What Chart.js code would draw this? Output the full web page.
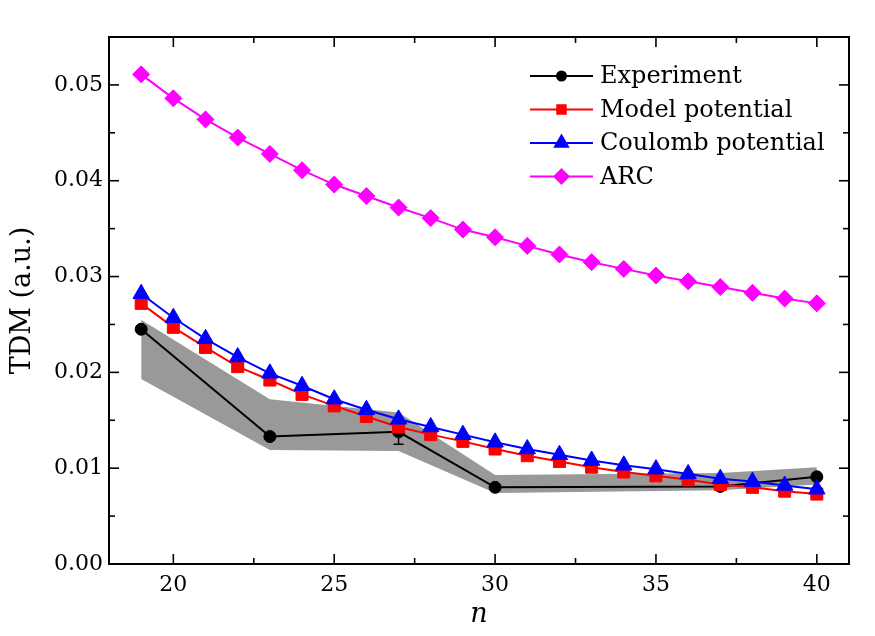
<!DOCTYPE html>
<html><head><meta charset="utf-8">
<script src="https://cdn.jsdelivr.net/npm/chart.js@4.4.0/dist/chart.umd.min.js"></script>
<style>html,body{margin:0;padding:0;background:#fff;}#wrap{width:875px;height:636px;}</style>
</head><body><div id="wrap"><canvas id="c" width="875" height="636"></canvas></div>
<script>
const nTheory = [19,20,21,22,23,24,25,26,27,28,29,30,31,32,33,34,35,36,37,38,39,40];
const modelPotential = [0.0272,0.0247,0.0226,0.0206,0.0192,0.0177,0.0165,0.0154,0.0143,0.0135,0.0128,0.0120,0.0113,0.0107,0.0101,0.0096,0.0092,0.0088,0.0083,0.0080,0.0076,0.0073];
const coulombPotential = [0.0282,0.0257,0.0235,0.0216,0.0199,0.0186,0.0172,0.0161,0.0151,0.0143,0.0135,0.0127,0.0120,0.0114,0.0108,0.0103,0.0099,0.0094,0.0089,0.0086,0.0082,0.0078];
const arcValues = [0.0511,0.0486,0.0464,0.0445,0.0428,0.0411,0.0396,0.0384,0.0372,0.0361,0.0349,0.0341,0.0332,0.0323,0.0315,0.0308,0.0301,0.0295,0.0289,0.0283,0.0277,0.0272];
const expN = [19,23,27,30,37,40];
const expValues = [0.0245,0.0133,0.0138,0.0080,0.0081,0.0091];
const errN = [27];
const errLow = [0.0125];
const errHigh = [0.0151];
const bandN = [19,23,27,30,37,40];
const bandLow = [0.0193,0.0119,0.0118,0.0074,0.0077,0.0083];
const bandHigh = [0.0255,0.0172,0.0158,0.0093,0.0095,0.0101];
const xMajorTicks = [20,25,30,35,40];
const xMinorTicks = [22.5,27.5,32.5,37.5];
const yMajorTicks = [0,0.01,0.02,0.03,0.04,0.05];
const yMinorTicks = [0.005,0.015,0.025,0.035,0.045];
const seriesNames = ['Experiment','Model potential','Coulomb potential','ARC'];

const F = "'DejaVu Serif', serif";
const pts = (xs, ys) => xs.map((v,i)=>({x:v, y:ys[i]}));

const framePlugin = {
  id:'frame',
  afterDraw(chart){
    const {ctx, chartArea:a, scales:{x,y}} = chart;
    ctx.save();
    ctx.strokeStyle='#000';
    const ln=(x1,y1,x2,y2)=>{ctx.beginPath();ctx.moveTo(x1,y1);ctx.lineTo(x2,y2);ctx.stroke();};
    ctx.lineWidth=1.6;
    xMajorTicks.forEach(v=>{const p=x.getPixelForValue(v); ln(p,a.bottom,p,a.bottom-10); ln(p,a.top,p,a.top+10);});
    xMinorTicks.forEach(v=>{const p=x.getPixelForValue(v); ln(p,a.bottom,p,a.bottom-6); ln(p,a.top,p,a.top+6);});
    yMajorTicks.forEach(v=>{const p=y.getPixelForValue(v); ln(a.left,p,a.left+10,p); ln(a.right,p,a.right-10,p);});
    yMinorTicks.forEach(v=>{const p=y.getPixelForValue(v); ln(a.left,p,a.left+6,p); ln(a.right,p,a.right-6,p);});
    ctx.lineWidth=2;
    ctx.strokeRect(a.left, a.top, a.right-a.left, a.bottom-a.top);
    // legend
    const items = [
      {c:'#000000', s:'circle', r:4.5},
      {c:'#ff0000', s:'rect', r:6},
      {c:'#0000ff', s:'triangle', r:7.5},
      {c:'#ff00ff', s:'rectRot', r:7}
    ];
    const lx0=530, lx1=593, tx=600, y0=76, dy=33.5;
    ctx.font = "24px " + F;
    ctx.textBaseline='middle';
    ctx.textAlign='left';
    items.forEach((it,i)=>{
      const yy=y0+i*dy;
      ctx.strokeStyle=it.c; ctx.lineWidth=2;
      ln(lx0,yy,lx1,yy);
      ctx.fillStyle=it.c;
      Chart.helpers.drawPoint(ctx,{pointStyle:it.s, radius:it.r, rotation:0, borderWidth:1}, (lx0+lx1)/2, yy);
      ctx.fillStyle='#000';
      ctx.fillText(seriesNames[i], tx, yy+1);
    });
    ctx.restore();
  },
  afterDatasetDraw(chart, args){
    if(args.index!==2) return;
    const {ctx, scales:{x,y}} = chart;
    ctx.save();
    ctx.strokeStyle='#000'; ctx.lineWidth=1.5;
    errN.forEach((n,i)=>{
      const px=x.getPixelForValue(n), lo=y.getPixelForValue(errLow[i]), hi=y.getPixelForValue(errHigh[i]);
      ctx.beginPath(); ctx.moveTo(px,lo); ctx.lineTo(px,hi);
      ctx.moveTo(px-5,lo); ctx.lineTo(px+5,lo);
      ctx.moveTo(px-5,hi); ctx.lineTo(px+5,hi); ctx.stroke();
    });
    ctx.restore();
  }
};

new Chart(document.getElementById('c'), {
  type:'line',
  data:{datasets:[
    {label:'Coulomb potential', data:pts(nTheory,coulombPotential), borderColor:'#0000ff', backgroundColor:'#0000ff', borderWidth:2, pointStyle:'triangle', pointRadius:9.5, pointBorderWidth:1, fill:false},
    {label:'Model potential', data:pts(nTheory,modelPotential), borderColor:'#ff0000', backgroundColor:'#ff0000', borderWidth:2, pointStyle:'rect', pointRadius:8.5, pointBorderWidth:1, fill:false},
    {label:'Experiment', data:pts(expN,expValues), borderColor:'#000000', backgroundColor:'#000000', borderWidth:2, pointStyle:'circle', pointRadius:6, pointBorderWidth:1, fill:false},
    {label:'ARC', data:pts(nTheory,arcValues), borderColor:'#ff00ff', backgroundColor:'#ff00ff', borderWidth:2, pointStyle:'rectRot', pointRadius:8.5, pointBorderWidth:1, fill:false},
    {label:'band low', data:pts(bandN,bandLow), borderWidth:0, borderColor:'rgba(0,0,0,0)', pointRadius:0, fill:false},
    {label:'band high', data:pts(bandN,bandHigh), borderWidth:0, borderColor:'rgba(0,0,0,0)', pointRadius:0, fill:'-1', backgroundColor:'#999999'}
  ]},
  options:{
    responsive:false, animation:false, devicePixelRatio:1,
    layout:{padding:{top:37,right:26,left:0,bottom:0}},
    plugins:{legend:{display:false}, tooltip:{enabled:false}},
    elements:{line:{tension:0}},
    scales:{
      x:{type:'linear', min:18, max:41,
        grid:{display:false, drawTicks:false}, border:{display:false},
        afterBuildTicks:s=>{s.ticks=xMajorTicks.map(v=>({value:v}));},
        afterFit:s=>{s.height=72;},
        ticks:{padding:8, color:'#000', font:{family:F,size:22}, maxRotation:0, callback:v=>String(v)},
        title:{display:true, text:'n', color:'#000', font:{family:F,size:27,style:'italic'}, padding:{top:0,bottom:5}}
      },
      y:{type:'linear', min:0, max:0.055,
        grid:{display:false, drawTicks:false}, border:{display:false},
        afterBuildTicks:s=>{s.ticks=yMajorTicks.map(v=>({value:v}));},
        afterFit:s=>{s.width=109;},
        ticks:{padding:6, color:'#000', font:{family:F,size:22}, callback:v=>Number(v).toFixed(2)},
        title:{display:true, text:'TDM (a.u.)', color:'#000', font:{family:F,size:27}, padding:{top:7,bottom:0}}
      }
    }
  },
  plugins:[framePlugin]
});
</script>
</body></html>
